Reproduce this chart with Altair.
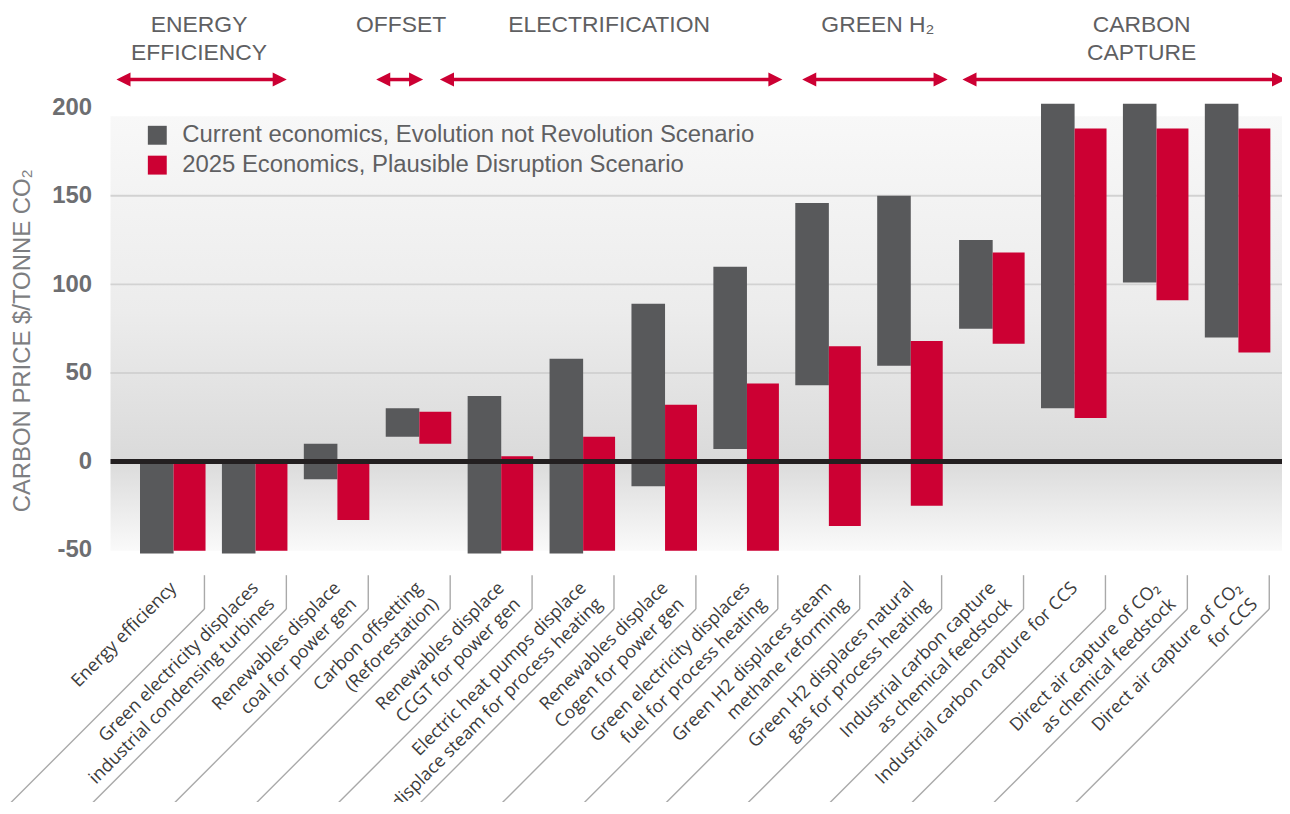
import altair as alt
import pandas as pd

# ---------------- data ----------------
categories = [
    "Energy efficiency",
    "Green electricity displaces\nindustrial condensing turbines",
    "Renewables displace\ncoal for power gen",
    "Carbon offsetting\n(Reforestation)",
    "Renewables displace\nCCGT for power gen",
    "Electric heat pumps displace\ndisplace steam for process heating",
    "Renewables displace\nCogen for power gen",
    "Green electricity displaces\nfuel for process heating",
    "Green H2 displaces steam\nmethane reforming",
    "Green H2 displaces natural\ngas for process heating",
    "Industrial carbon capture\nas chemical feedstock",
    "Industrial carbon capture for CCS",
    "Direct air capture of CO\u2082\nas chemical feedstock",
    "Direct air capture of CO\u2082\nfor CCS",
]
current_low = [-52, -52, -10, 14, -52, -52, -14, 7, 43, 54, 75, 30, 101, 70]
current_high = [0, 0, 10, 30, 37, 58, 89, 110, 146, 150, 125, 202, 202, 202]
disruption_low = [-50.5, -50.5, -33, 10, -50.5, -50.5, -50.5, -50.5, -36.5, -25, 66.5, 24.5, 91, 61.5]
disruption_high = [0, 0, 0, 28, 3, 14, 32, 44, 65, 68, 118, 188, 188, 188]
series_names = [
    "Current economics, Evolution not Revolution Scenario",
    "2025 Economics, Plausible Disruption Scenario",
]
group_names = ["ENERGY\nEFFICIENCY", "OFFSET", "ELECTRIFICATION", "GREEN H\u2082", "CARBON\nCAPTURE"]
y_ticks = [-50, 0, 50, 100, 150, 200]
grid_values = [50, 100, 150]

# ---------------- layout ----------------
PAD_LEFT, PAD_TOP, PAD_RIGHT, PAD_BOTTOM = 103, 89, 1, 246
W, H = 1176, 459
X_DOMAIN = [-0.77, 13.52]
Y_DOMAIN = [-53, 205]
UX = W / (X_DOMAIN[1] - X_DOMAIN[0])
UY = H / (Y_DOMAIN[1] - Y_DOMAIN[0])
ORIGIN_X, ORIGIN_Y = 8 + PAD_LEFT, 8 + PAD_TOP


def xd(px):
    return X_DOMAIN[0] + (px - ORIGIN_X) / UX


def yd(py):
    return Y_DOMAIN[1] - (py - ORIGIN_Y) / UY


GRAY, RED = "#58595b", "#cc0033"
header_centers = [200, 403, 612, 882, 1147]
arrow_spans = [(117, 288), (378, 425), (442, 786), (806, 952), (967, 1292)]

xs = alt.Scale(domain=X_DOMAIN, nice=False, zero=False)
ys = alt.Scale(domain=Y_DOMAIN, nice=False, zero=False)

y_axis = alt.Axis(
    values=y_ticks, grid=False, domain=False, ticks=False,
    labelExpr="datum.value < 0 ? '-' + abs(datum.value) : '' + datum.value",
    labelFontSize=24, labelFontWeight="bold", labelColor="#6d6e71",
    labelFont="Liberation Sans", labelPadding=19,
    title="CARBON PRICE $/TONNE CO\u2082", titleFontSize=24,
    titleFontWeight="normal", titleColor="#7d7e81", titleFont="Liberation Sans",
    titleAngle=270, titleX=-88, titleY=243, titleAlign="center",
    titleBaseline="middle")

# background (carries the y axis)
one = pd.DataFrame({"a": [0]})
bg = alt.Chart(one).mark_rect(
    fill=alt.LinearGradient(
        gradient="linear", x1=0, x2=0, y1=0, y2=1,
        stops=[alt.GradientStop(offset=0, color="#f8f8f8"),
               alt.GradientStop(offset=0.45, color="#ececec"),
               alt.GradientStop(offset=0.79, color="#dadada"),
               alt.GradientStop(offset=1, color="#fafafa")])
).encode(
    x=alt.value(0), x2=alt.value(W + 4),
    y=alt.Y("top:Q", scale=ys, axis=y_axis), y2="bottom:Q",
).transform_calculate(top="195", bottom="-50.5")

# bars
rows = []
for i in range(len(categories)):
    rows.append(dict(series=series_names[0], x0=i - 0.41, x1=i,
                     low=current_low[i], high=current_high[i]))
    rows.append(dict(series=series_names[1], x0=i, x1=i + 0.39,
                     low=disruption_low[i], high=disruption_high[i]))
bars_df = pd.DataFrame(rows)

bars = alt.Chart(bars_df).mark_rect().encode(
    x=alt.X("x0:Q", scale=xs, axis=None),
    x2="x1:Q",
    y=alt.Y("low:Q", scale=ys, axis=y_axis),
    y2="high:Q",
    color=alt.Color("series:N", scale=alt.Scale(domain=series_names, range=[GRAY, RED]),
                    legend=alt.Legend(orient="none", legendX=35, legendY=25, title=None,
                                      symbolType="square", symbolSize=361,
                                      symbolStrokeWidth=0, symbolOpacity=1,
                                      labelFontSize=24, labelFont="Liberation Sans",
                                      labelColor="#5f6062", labelOffset=13,
                                      rowPadding=6, padding=0, labelLimit=1000)),
)

grid = alt.Chart(pd.DataFrame({"v": grid_values})).mark_rule(
    color="#d2d2d2", strokeWidth=2
).encode(y=alt.Y("v:Q", scale=ys, axis=y_axis), x=alt.value(0), x2=alt.value(W + 4))

zero = alt.Chart(pd.DataFrame({"v": [0]})).mark_rule(
    color="#231f20", strokeWidth=5
).encode(y=alt.Y("v:Q", scale=ys, axis=y_axis), x=alt.value(0), x2=alt.value(W + 4))

# separators under the category labels
sep_rows = []
for i in range(len(categories)):
    sx = i + 31 / UX
    sep_rows.append(dict(xa=sx, ya=yd(576), xb=sx, yb=yd(610)))
    sep_rows.append(dict(xa=sx, ya=yd(610), xb=sx - 230 / UX, yb=yd(840)))
seps = alt.Chart(pd.DataFrame(sep_rows)).mark_rule(color="#a9a9a9", strokeWidth=1.4).encode(
    x=alt.X("xa:Q", scale=xs, axis=None), y=alt.Y("ya:Q", scale=ys, axis=y_axis),
    x2="xb:Q", y2="yb:Q")

lab_df = pd.DataFrame({
    "label": categories,
    "lx": [i - 6 / UX for i in range(len(categories))],
    "ly": [yd(580)] * len(categories),
})
labels = alt.Chart(lab_df).mark_text(
    angle=315, align="right", baseline="top", lineBreak="\n",
    font="Open Sans", fontSize=18, lineHeight=23, color="#3c3c3c"
).encode(x=alt.X("lx:Q", scale=xs, axis=None), y=alt.Y("ly:Q", scale=ys, axis=y_axis),
         text="label:N")

# group headers and arrows
hdr_df = pd.DataFrame({
    "name": group_names,
    "hx": [xd(c) for c in header_centers],
    "hy": [yd(12)] * len(group_names),
})
headers = alt.Chart(hdr_df).mark_text(
    align="center", baseline="top", lineBreak="\n", font="Liberation Sans",
    fontSize=23, lineHeight=28, color="#5f6062"
).encode(x=alt.X("hx:Q", scale=xs, axis=None), y=alt.Y("hy:Q", scale=ys, axis=y_axis),
         text="name:N")

arr_df = pd.DataFrame({
    "xa": [xd(a) + 8 / UX for a, b in arrow_spans],
    "xb": [xd(b) - 8 / UX for a, b in arrow_spans],
    "ay": [yd(78)] * len(arrow_spans),
})
arrow_lines = alt.Chart(arr_df).mark_rule(color=RED, strokeWidth=3.5).encode(
    x=alt.X("xa:Q", scale=xs, axis=None), x2="xb:Q",
    y=alt.Y("ay:Q", scale=ys, axis=y_axis))

left_heads = alt.Chart(pd.DataFrame({
    "hx": [xd(a) + 7 / UX for a, b in arrow_spans], "hy": [yd(78)] * len(arrow_spans)
})).mark_point(shape="M1,-1L-1,0L1,1Z", filled=True, size=200, color=RED,
               opacity=1, strokeWidth=0).encode(
    x=alt.X("hx:Q", scale=xs, axis=None), y=alt.Y("hy:Q", scale=ys, axis=y_axis))
right_heads = alt.Chart(pd.DataFrame({
    "hx": [xd(b) - 7 / UX for a, b in arrow_spans], "hy": [yd(78)] * len(arrow_spans)
})).mark_point(shape="M-1,-1L1,0L-1,1Z", filled=True, size=200, color=RED,
               opacity=1, strokeWidth=0).encode(
    x=alt.X("hx:Q", scale=xs, axis=None), y=alt.Y("hy:Q", scale=ys, axis=y_axis))

chart = alt.layer(
    bg, grid, bars, zero, seps, labels, arrow_lines, left_heads, right_heads, headers
).properties(
    width=W, height=H,
    autosize=alt.AutoSizeParams(type="none"),
    padding={"left": PAD_LEFT, "top": PAD_TOP, "right": PAD_RIGHT, "bottom": PAD_BOTTOM},
    background="white",
).configure_view(stroke=None)

chart.save("out.html", embed_options={"renderer": "svg", "actions": False})
